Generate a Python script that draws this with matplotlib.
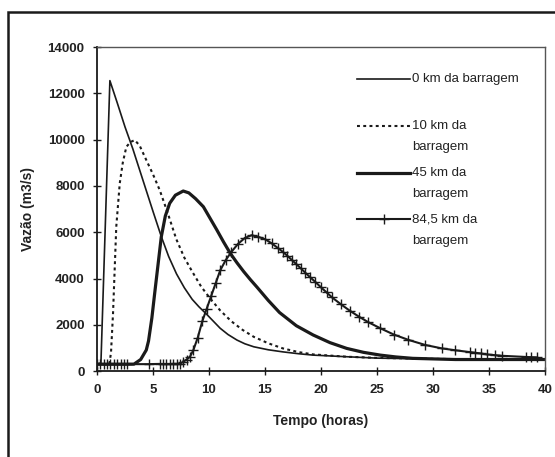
import matplotlib
matplotlib.use('Agg')
import matplotlib.pyplot as plt
from matplotlib.patches import Rectangle

plt.rcParams['font.family'] = ['Liberation Sans', 'DejaVu Sans']

# 0 km da barragem
t0 = [0, 0.35, 1.15, 1.8, 2.5, 3.2, 3.8, 4.4, 5.0, 5.75, 6.4, 7.1, 7.8, 8.5, 9.1, 9.8, 10.4,
      11.0, 11.7, 12.5, 13.2, 14.0, 15.3, 16.6, 18.0, 19.3, 22.3, 25, 30, 35, 40]
q0 = [300, 350, 12550, 11600, 10550, 9600, 8700, 7800, 6900, 5800, 4950, 4200, 3600, 3100, 2780, 2450, 2150,
      1850, 1580, 1340, 1180, 1050, 920, 830, 750, 690, 620, 560, 520, 500, 500]

# 10 km da barragem
t10 = [0, 1.1, 1.25, 1.43, 1.72, 2.03, 2.3, 2.62, 3.0, 3.37, 3.8, 4.4, 5.0, 5.6, 6.3, 7.08, 7.8, 8.5,
       9.3, 10.1, 11.0, 12.0, 13.0, 14.0, 15.3, 16.6, 18.0, 19.3, 22.3, 25, 30, 35, 40]
q10 = [300, 300, 800, 2490, 6240, 8110, 9000, 9690, 9900, 9980, 9750, 9120, 8500, 7820, 6850, 5700, 4900, 4300,
       3650, 3140, 2620, 2150, 1780, 1480, 1200, 980, 820, 720, 620, 570, 530, 500, 500]

# 45 km da barragem
t45 = [0, 3.3, 3.9, 4.4, 4.6, 4.9, 5.15, 5.45, 5.74, 6.1, 6.49, 7.0, 7.7, 8.2, 8.8, 9.5, 10.1, 10.7,
       11.3, 11.9, 12.5, 13.1, 13.7, 14.3, 15.3, 16.3, 17.8, 19.3, 20.8, 22.3, 23.8, 25.3, 26.7, 28.2, 32, 40]
q45 = [300, 300, 500, 910, 1300, 2300, 3360, 4600, 5800, 6700, 7250, 7600, 7780, 7700, 7450, 7100, 6600, 6100,
       5580, 5090, 4680, 4300, 3950, 3620, 3050, 2530, 1960, 1560, 1230, 980, 810, 690, 610, 550, 500, 500]

# 84,5 km da barragem
t84 = [0, 0.3, 0.6, 0.9, 1.2, 1.5, 1.8, 2.1, 2.4, 2.7, 4.6, 5.6, 5.9, 6.2, 6.5, 6.8, 7.1, 7.4,
       7.7, 8.0, 8.3, 8.6, 9.0, 9.4, 9.8, 10.2, 10.6, 11.0, 11.5, 12.0, 12.6, 13.2, 13.8, 14.4,
       15.0, 15.6, 16.2, 16.6, 17.0, 17.4, 17.8, 18.2, 18.6, 19.0, 19.5, 20.0, 20.5, 21.0, 21.8,
       22.6, 23.4, 24.2, 25.3, 26.5, 27.8, 29.3, 30.8, 32.0, 33.3, 33.8, 34.3, 34.8, 35.5, 36.2,
       38.3, 38.8, 39.3]
q84 = [300, 300, 300, 300, 300, 300, 300, 300, 300, 300, 300, 310, 310, 310, 310, 320, 320, 320,
       400, 500, 620, 900, 1450, 2150, 2700, 3250, 3800, 4350, 4800, 5150, 5500, 5750, 5870, 5800,
       5700, 5520, 5300, 5150, 4980, 4800, 4620, 4440, 4250, 4070, 3850, 3620, 3400, 3180, 2880,
       2600, 2350, 2120, 1850, 1580, 1350, 1130, 980, 900, 820, 790, 760, 720, 690, 660,
       610, 600, 590]

x_ticks = list(range(0, 41, 5))
y_ticks = list(range(0, 14001, 2000))

legend_labels = ['0 km da barragem', '10 km da\nbarragem', '45 km da\nbarragem', '84,5 km da\nbarragem']

fig = plt.figure(figsize=(5.55, 4.57), dpi=100)
ax = fig.add_axes([0.1748, 0.188, 0.807, 0.709])

ink = '#1a1a1a'
styles = [
    dict(color=ink, lw=1.2, ls='-'),
    dict(color=ink, lw=1.5, ls=(0, (1.4, 1.6))),
    dict(color=ink, lw=2.3, ls='-'),
    dict(color=ink, lw=1.5, ls='-', marker='+', ms=7, mew=1.0),
]

ax.plot(t0, q0, **styles[0])
ax.plot(t10, q10, **styles[1])
ax.plot(t45, q45, **styles[2])
ax.plot(t84, q84, **styles[3])

ax.set_xlim(0, 40)
ax.set_ylim(0, 14000)
ax.set_xticks(x_ticks)
ax.set_yticks(y_ticks)
ax.tick_params(direction='inout', length=6, width=1.0, colors=ink, labelsize=9.5, pad=6)
for lab in ax.get_xticklabels() + ax.get_yticklabels():
    lab.set_fontweight('bold')
    lab.set_color('#222222')

for side in ['top', 'right']:
    ax.spines[side].set_color('#555555')
    ax.spines[side].set_linewidth(1.0)
for side in ['left', 'bottom']:
    ax.spines[side].set_color(ink)
    ax.spines[side].set_linewidth(1.3)

ax.set_xlabel('Tempo (horas)', fontsize=10, fontweight='bold', color='#222222', labelpad=13)
ax.set_ylabel('Vazão (m3/s)', fontsize=10, fontweight='bold', color='#222222', labelpad=9)

# legend drawn by hand so the sample line sits on the first text line
leg_y = [0.902, 0.757, 0.610, 0.468]
dy = 0.065
for i, (lab, y) in enumerate(zip(legend_labels, leg_y)):
    st = dict(styles[i])
    if i == 3:
        ax.plot([0.580, 0.640, 0.699], [y, y, y], transform=ax.transAxes, markevery=[1], **st)
    else:
        ax.plot([0.580, 0.699], [y, y], transform=ax.transAxes, **st)
    for j, line in enumerate(lab.split('\n')):
        ax.text(0.703, y - j * dy, line, transform=ax.transAxes, fontsize=9.5,
                va='center', ha='left', color='#222222')

# outer frame of the scanned figure
fig.add_artist(Rectangle((0.0144, -0.1), 1.2, 0.9737 + 0.1, transform=fig.transFigure,
                         fill=False, ec=ink, lw=1.8))

fig.savefig('out.png', dpi=100)
